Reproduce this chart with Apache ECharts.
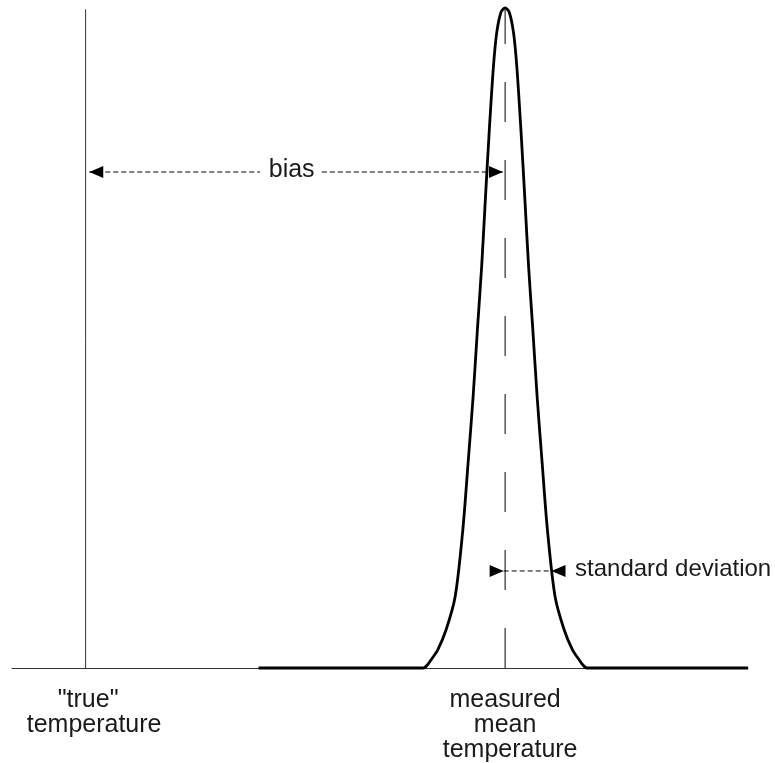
<!DOCTYPE html>
<html><head><meta charset="utf-8">
<script src="https://cdn.jsdelivr.net/npm/echarts@6/dist/echarts.min.js"></script>
<style>html,body{margin:0;padding:0;background:#fff}#c{width:775px;height:763px}</style>
</head><body><div id="c"></div>
<script>
// measured distribution curve (x in temperature units, y relative density)
const curveX = [33.5, 55.90, 56.54, 57.04, 57.83, 58.98, 60.21, 61.25, 61.97, 62.65, 63.26, 63.81, 64.31, 64.83, 65.41, 65.85, 66.45, 67.00,
                67.55, 68.15, 68.59, 69.17, 69.69, 70.19, 70.74, 71.35, 72.03, 72.75, 73.79, 75.02, 76.17, 76.96, 77.46, 78.10, 100];
const curveY = [0, 0, 0.006, 0.014, 0.027, 0.058, 0.108, 0.209, 0.311, 0.411, 0.517, 0.608, 0.709, 0.811, 0.911, 0.962, 0.994, 1.0,
                0.994, 0.962, 0.911, 0.811, 0.709, 0.608, 0.517, 0.411, 0.311, 0.209, 0.108, 0.058, 0.027, 0.014, 0.006, 0, 0];
const trueTemp = 10;
const meanTemp = 67;
const trueLineTop = 0.998;
const meanLineTop = 0.997;
const biasLevel = 0.7515;
const biasTips = [10.5, 66.7];
const biasGap = [33.7, 42.1];
const biasText = 'bias';
const biasTextAt = 38.0;
const sdLevel = 0.147;
const sdTips = [66.8, 73.3];
const sdText = 'standard deviation';
const sdTextAt = 76.5;
const tickValues = [trueTemp, meanTemp];
const tickLabels = [['"true"', 'temperature'], ['measured', 'mean', 'temperature']];
const tickLinePads = [[5, 17], [0, 0, 10]];

const FONT = 'Liberation Sans, Arial, sans-serif';
const TXT = '#1a1a1a';

const rich = {};
tickLabels.forEach((lines, i) => lines.forEach((s, j) => {
  rich['l' + i + '_' + j] = {fontSize: 25, lineHeight: 25, fontFamily: FONT, color: TXT, align: 'center',
    padding: [0, 0, 0, tickLinePads[i][j]]};
}));

const arrowHead = (x, y, dir) => ({
  value: [x, y], symbol: 'triangle', symbolSize: [12, 14],
  symbolRotate: dir < 0 ? 90 : -90, symbolOffset: [dir < 0 ? 7 : -7, 0]
});
const plain = (x, y) => ({value: [x, y], symbol: 'none'});
const dashed = {color: '#000', width: 1, type: [5, 3]};

const chart = echarts.init(document.getElementById('c'), null, {renderer: 'canvas'});
chart.setOption({
  animation: false,
  backgroundColor: '#fff',
  grid: {left: 12, right: 27, top: 8, bottom: 95, containLabel: false, outerBoundsMode: 'none'},
  xAxis: {
    type: 'value', min: 0, max: 100,
    splitLine: {show: false}, axisTick: {show: false},
    axisLine: {show: true, lineStyle: {color: '#333', width: 1}},
    axisLabel: {
      show: true, margin: 20, customValues: tickValues, rich: rich,
      formatter: (v) => {
        const i = tickValues.indexOf(v);
        if (i < 0) return '';
        return tickLabels[i].map((s, j) => '{l' + i + '_' + j + '|' + s + '}').join('\n');
      }
    }
  },
  yAxis: {type: 'value', min: 0, max: 1, show: false, splitLine: {show: false}},
  series: [
    {type: 'line', silent: true, symbol: 'none', clip: false,
     data: [[trueTemp, 0], [trueTemp, trueLineTop]],
     lineStyle: {color: '#333', width: 1}},
    {type: 'line', silent: true, symbol: 'none', clip: false,
     data: [[meanTemp, 0], [meanTemp, meanLineTop]],
     lineStyle: {color: '#000', width: 1, type: [40, 38]}},
    {type: 'line', silent: true, symbol: 'none', clip: false, smooth: 0.3,
     data: curveX.map((x, i) => [x, curveY[i]]),
     lineStyle: {color: '#000', width: 2.8}},
    {type: 'line', silent: true, showSymbol: true, clip: false, itemStyle: {color: '#000', borderWidth: 0},
     data: [arrowHead(biasTips[0], biasLevel, -1), plain(biasGap[0], biasLevel)], lineStyle: dashed},
    {type: 'line', silent: true, showSymbol: true, clip: false, itemStyle: {color: '#000', borderWidth: 0},
     data: [plain(biasGap[1], biasLevel), arrowHead(biasTips[1], biasLevel, 1)], lineStyle: dashed},
    {type: 'line', silent: true, showSymbol: true, clip: false, itemStyle: {color: '#000', borderWidth: 0},
     data: [arrowHead(sdTips[0], sdLevel, 1), arrowHead(sdTips[1], sdLevel, -1)], lineStyle: dashed},
    {type: 'scatter', silent: true, symbolSize: 1, itemStyle: {color: 'rgba(0,0,0,0)', opacity: 1}, clip: false,
     data: [{value: [biasTextAt, biasLevel], label: {formatter: biasText, align: 'center'}},
            {value: [sdTextAt, sdLevel], label: {formatter: sdText, align: 'left', fontSize: 24}}],
     label: {show: true, position: 'inside', fontSize: 25, fontFamily: FONT, color: TXT, opacity: 1,
             verticalAlign: 'middle', offset: [0, -2]}}
  ]
});
</script></body></html>
